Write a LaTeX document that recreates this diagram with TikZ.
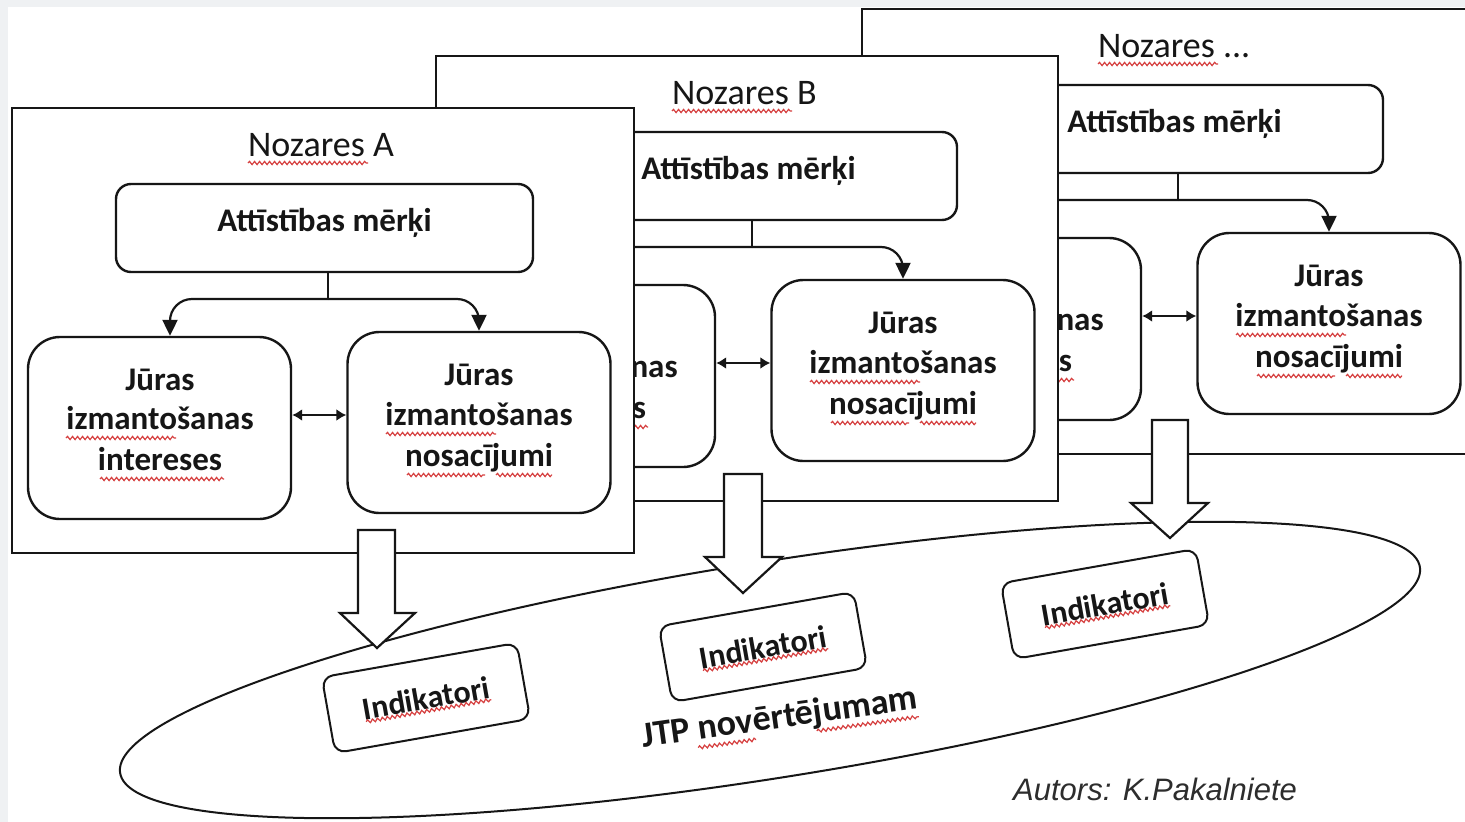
\documentclass[tikz,border=0pt]{standalone}
\usepackage{fontspec}
\setmainfont{Carlito}
\newfontfamily\autfont{Liberation Sans}
\usetikzlibrary{arrows.meta,decorations.pathmorphing,calc}
\definecolor{bggray}{RGB}{239,241,243}
\definecolor{ink}{RGB}{22,22,22}
\definecolor{spellred}{RGB}{214,64,64}
\definecolor{autgray}{RGB}{45,45,45}
\tikzset{
  sectorframe/.style={draw=ink, line width=2pt, fill=white, inner sep=0pt, outer sep=0pt},
  goalbox/.style={draw=ink, line width=2.4pt, fill=white, rounded corners=15pt, inner sep=0pt, minimum width=417pt, minimum height=88pt},
  bigbox/.style={draw=ink, line width=2.4pt, fill=white, rounded corners=32pt, inner sep=0pt, minimum width=263pt, minimum height=182pt},
  indbox/.style={draw=ink, line width=2pt, fill=white, rounded corners=11pt, inner sep=0pt, minimum width=198pt, minimum height=77pt,
                 text=ink, font=\bfseries\fontsize{32}{38}\selectfont},
  bt/.style={text=ink, font=\bfseries\fontsize{33}{40}\selectfont, inner sep=0pt, anchor=base},
  ttl/.style={text=ink, font=\fontsize{36}{43}\selectfont, inner sep=0pt, anchor=base west},
  jtpt/.style={text=ink, font=\bfseries\fontsize{36}{43}\selectfont, inner sep=0pt, anchor=base},
  conn/.style={draw=ink, line width=2.2pt},
  tree/.style={conn, rounded corners=22pt, -{Triangle[length=16pt,width=15pt]}},
  dbl/.style={draw=ink, line width=2.2pt, {Latex[length=10pt,width=12pt]}-{Latex[length=10pt,width=12pt]}},
  spell/.style={draw=spellred, line width=1.2pt, decorate, decoration={snake, amplitude=1.6pt, segment length=5pt}},
  blockarrow/.style={draw=ink, line width=2.2pt, fill=white, line join=miter},
}
\newcommand{\drawsector}[2]{%
  \node[sectorframe, minimum width=622pt, minimum height=445pt] (#1F) at (323,330.5) {};
  \node[ttl] (#1T) at (248,156) {#2};
  \node[goalbox] (#1G) at (324.5,228) {};
  \node[bt] (#1Gt) at (324.5,231) {Attīstības mērķi};
  \node[bigbox] (#1I) at (159.5,428) {};
  \node[bt] (#1Ia) at (160,390) {Jūras};
  \node[bt] (#1Ib) at (160,429) {izmantošanas};
  \node[bt] (#1Ic) at (160,470) {intereses};
  \node[bigbox, minimum height=181pt] (#1N) at (479,422.5) {};
  \node[bt] (#1Na) at (479,385) {Jūras};
  \node[bt] (#1Nb) at (479,425) {izmantošanas};
  \node[bt] (#1Nc) at (479,466) {nosacījumi};
  \coordinate (#1J) at (328,299);
  \coordinate (#1D) at (320,415);
  \draw[conn] (#1G.south -| #1J) -- (#1J);
  \draw[tree] (#1J) -| ([xshift=10.5pt]#1I.north);
  \draw[tree] (#1J) -| (#1N.north);
  \draw[dbl] (#1I.east |- #1D) -- (#1N.west |- #1D);
  \draw[spell] (248,163) -- (368,163);
  \draw[spell] (66,438) -- (176,438);
  \draw[spell] (100,479) -- (224,479);
  \draw[spell] (386,434) -- (496,434);
  \draw[spell] (407,475) -- (485,475);
  \draw[spell] (496,475) -- (552,475);
}
\begin{document}
\begin{tikzpicture}[x=1pt,y=-1pt]
\fill[bggray] (0,0) rectangle (1465,822);
\fill[white] (8,7) rectangle (1465,822);
\useasboundingbox (0,0) rectangle (1465,822);
\clip (0,0) rectangle (1465,822);
% sectors, back to front
\begin{scope}[shift={(850,-99)}]
  \drawsector{C}{Nozares ...}
\end{scope}
\begin{scope}[shift={(424,-52)}]
  \drawsector{B}{Nozares B}
\end{scope}
\drawsector{A}{Nozares A}
% ellipse
\draw[draw=ink, line width=2pt, fill=white, rotate around={9:(770,670)}] (770,670) ellipse [x radius=658pt, y radius=108pt];
% indicator boxes
\node[indbox, rotate=10] (I1) at (426,698) {Indikatori};
\node[indbox, rotate=10] (I2) at (763,647) {Indikatori};
\node[indbox, rotate=10] (I3) at (1105,604) {Indikatori};
\foreach \n in {I1,I2,I3}{
  \begin{scope}[shift={(\n.center)}, rotate=10]
    \draw[spell] (-63,13) -- (64,13);
  \end{scope}
}
\node[jtpt, rotate=8] (JTP) at (781,728) {JTP novērtējumam};
\draw[spell] ($(JTP.base west)!0.2!(JTP.base east)+(0,8)$) -- ($(JTP.base west)!0.41!(JTP.base east)+(0,8)$);
\draw[spell] ($(JTP.base west)!0.63!(JTP.base east)+(0,8)$) -- ($(JTP.base west)!1!(JTP.base east)+(0,8)$);
% block arrows
\draw[blockarrow] (358,530) -- (395,530) -- (395,613) -- (415,613) -- (377,648) -- (340,613) -- (358,613) -- cycle;
\draw[blockarrow] (724,474) -- (762,474) -- (762,557) -- (782,557) -- (743,593) -- (705,557) -- (724,557) -- cycle;
\draw[blockarrow] (1152,420) -- (1188,420) -- (1188,503) -- (1208,503) -- (1170,538) -- (1131,503) -- (1152,503) -- cycle;
% author
\node[font=\autfont\itshape\fontsize{31}{37}\selectfont, text=autgray, inner sep=0pt, anchor=base west] (aut) at (1013,800) {Autors: K.Pakalniete};
\end{tikzpicture}
\end{document}
